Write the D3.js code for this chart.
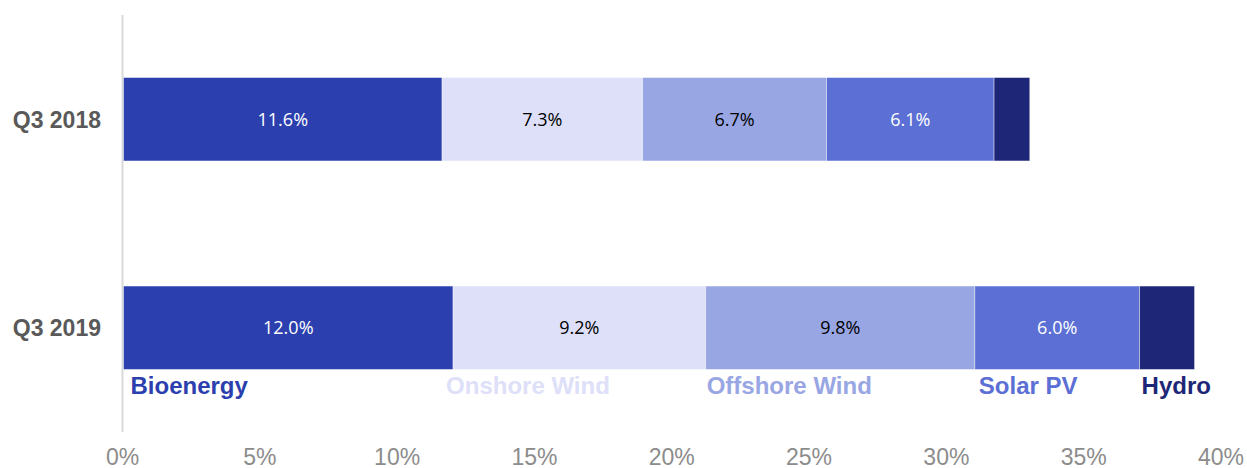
<!DOCTYPE html>
<html>
<head>
<meta charset="utf-8">
<script src="https://cdn.jsdelivr.net/npm/d3@7"></script>
<style>
  body { margin: 0; background: #fff; }
  svg { display: block; }
</style>
</head>
<body>
<svg id="chart"></svg>
<script>
// data
const periods = ['Q3 2018', 'Q3 2019'];
const sources = ['Bioenergy', 'Onshore Wind', 'Offshore Wind', 'Solar PV', 'Hydro'];
const q3_2018 = [11.6, 7.3, 6.7, 6.1, 1.3];
const q3_2019 = [12.0, 9.2, 9.8, 6.0, 2.0];
const showLabel = [true, true, true, true, false];
const colors = ['#2b3fae', '#dde0f8', '#99a6e4', '#5b6fd5', '#1e2777'];
const labelColors = ['#ffffff', '#000000', '#000000', '#ffffff', '#ffffff'];
const xTicks = [0, 5, 10, 15, 20, 25, 30, 35, 40];

const width = 1247, height = 468;
const svg = d3.select('#chart').attr('width', width).attr('height', height);

const x = d3.scaleLinear().domain([0, 40]).range([122.5, 1221]);
const y = d3.scaleBand().domain(periods).range([15, 432])
  .paddingInner(0.6).paddingOuter(0.3);

const values = { 'Q3 2018': q3_2018, 'Q3 2019': q3_2019 };

// build stacked rows
const rows = periods.map(p => {
  const row = { period: p };
  sources.forEach((s, i) => { row[s] = values[p][i]; });
  return row;
});
const stacked = d3.stack().keys(sources)(rows);

// axis line
svg.append('line')
  .attr('x1', x(0)).attr('x2', x(0))
  .attr('y1', 15).attr('y2', 432)
  .attr('stroke', '#d9d9d9').attr('stroke-width', 2);

const layers = svg.append('g').selectAll('g')
  .data(stacked)
  .join('g')
  .attr('fill', (d, i) => colors[i]);

layers.selectAll('rect')
  .data(d => d)
  .join('rect')
  .attr('x', d => x(d[0]) + 1)
  .attr('y', d => y(d.data.period))
  .attr('width', d => x(d[1]) - x(d[0]))
  .attr('height', y.bandwidth())
  .attr('stroke', '#ffffff')
  .attr('stroke-opacity', 0.5)
  .attr('stroke-width', 0.8);

// value labels
stacked.forEach((layer, i) => {
  if (!showLabel[i]) return;
  svg.append('g').selectAll('text')
    .data(layer)
    .join('text')
    .attr('x', d => (x(d[0]) + x(d[1])) / 2 + 1)
    .attr('y', d => y(d.data.period) + y.bandwidth() / 2)
    .attr('dy', '0.36em')
    .attr('text-anchor', 'middle')
    .attr('fill', labelColors[i])
    .style('font-family', '"Open Sans", sans-serif')
    .style('font-size', '18px')
    .text(d => d3.format('.1f')(d[1] - d[0]) + '%');
});

// category labels
svg.append('g').selectAll('text')
  .data(periods)
  .join('text')
  .attr('x', 101)
  .attr('y', d => y(d) + y.bandwidth() / 2)
  .attr('dy', '0.36em')
  .attr('text-anchor', 'end')
  .attr('fill', '#595959')
  .style('font-family', '"Liberation Sans", Arial, sans-serif')
  .style('font-weight', 'bold')
  .style('font-size', '23px')
  .text(d => d);

// legend labels under the Q3 2019 bar
const last = periods[periods.length - 1];
svg.append('g').selectAll('text')
  .data(stacked)
  .join('text')
  .attr('x', (d, i) => x(d[1][0]) + [8, -6, 2, 5, 3][i])
  .attr('y', y(last) + y.bandwidth() + 25)
  .attr('fill', (d, i) => colors[i])
  .style('font-family', '"Liberation Sans", Arial, sans-serif')
  .style('font-weight', 'bold')
  .style('font-size', '24px')
  .text(d => d.key);

// x tick labels
svg.append('g').selectAll('text')
  .data(xTicks)
  .join('text')
  .attr('x', d => x(d))
  .attr('y', 465)
  .attr('text-anchor', 'middle')
  .attr('fill', '#8c8c8c')
  .style('font-family', '"Liberation Sans", Arial, sans-serif')
  .style('font-size', '23px')
  .text(d => d + '%');
</script>
</body>
</html>
